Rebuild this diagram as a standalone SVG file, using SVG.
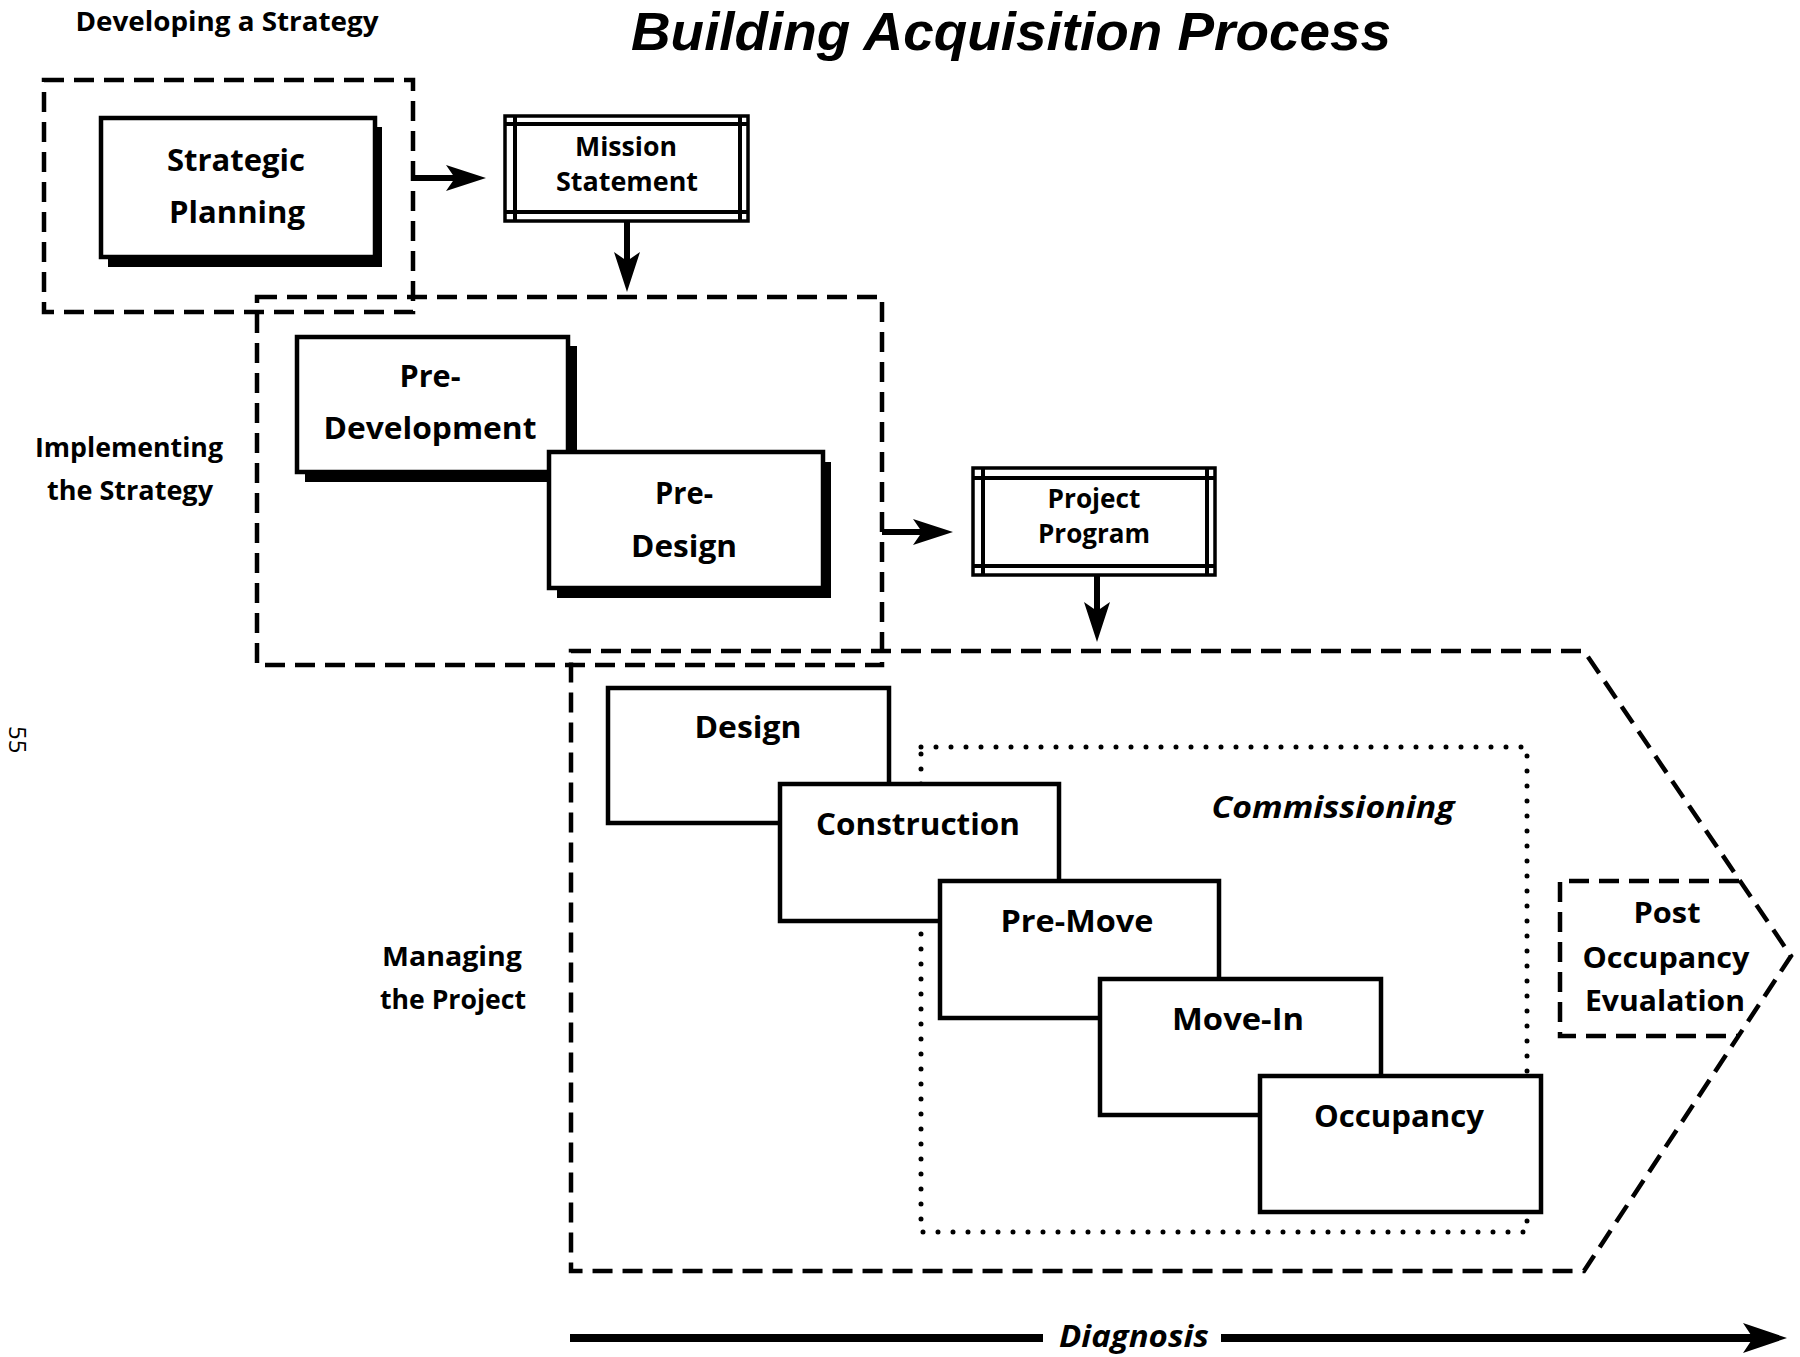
<svg xmlns="http://www.w3.org/2000/svg" width="1800" height="1357" viewBox="0 0 1800 1357">
<style>
.t{font-family:"Open Sans","Noto Sans","Liberation Sans",sans-serif;font-weight:700;fill:#000;text-anchor:middle}
.it{font-style:italic}
.title{font-family:"Liberation Sans","Open Sans",sans-serif}
.dash{fill:none;stroke:#000;stroke-width:4.5;stroke-dasharray:20 10}
.dot{fill:none;stroke:#000;stroke-width:5;stroke-dasharray:0 15;stroke-linecap:round}
.box{fill:#fff;stroke:#000;stroke-width:4.5}
.shadow{fill:#000}
.frame{fill:#fff;stroke:#000;stroke-width:3.5}
.fl{stroke:#000;stroke-width:4;fill:none}
.conn{stroke:#000;stroke-width:6;fill:none}
</style>
<defs>
<marker id="ah" viewBox="0 0 40 26" refX="20" refY="13" markerWidth="40" markerHeight="26" markerUnits="userSpaceOnUse" orient="auto">
<path d="M0,0 L40,13 L0,26 L9,13 Z" fill="#000"/>
</marker>
<marker id="ahBig" viewBox="0 0 44 30" refX="22" refY="15" markerWidth="44" markerHeight="30" markerUnits="userSpaceOnUse" orient="auto">
<path d="M0,0 L44,15 L0,30 L10,15 Z" fill="#000"/>
</marker>
</defs>
<rect width="1800" height="1357" fill="#fff"/>

<text class="t it title" x="1011" y="50" font-size="54" textLength="760" lengthAdjust="spacingAndGlyphs">Building Acquisition Process</text>
<text x="9" y="726" transform="rotate(90 9 726)" font-family="'Open Sans','Liberation Sans',sans-serif" font-size="24">55</text>

<g id="stage-developing">
<rect class="dash" x="44" y="80" width="369" height="232"/>
<text class="t" x="227" y="31" font-size="26" textLength="303" lengthAdjust="spacingAndGlyphs">Developing a Strategy</text>
</g>
<g id="stage-implementing">
<rect class="dash" x="257" y="297" width="625" height="368"/>
<text class="t" x="129" y="457" font-size="26" textLength="188" lengthAdjust="spacingAndGlyphs">Implementing</text>
<text class="t" x="130" y="500" font-size="26" textLength="166" lengthAdjust="spacingAndGlyphs">the Strategy</text>
</g>
<g id="stage-managing">
<path class="dash" d="M571,651 H1584 L1791,956 L1584,1271 H571 Z"/>
<text class="t" x="452" y="966" font-size="26" textLength="140" lengthAdjust="spacingAndGlyphs">Managing</text>
<text class="t" x="453" y="1009" font-size="26" textLength="146" lengthAdjust="spacingAndGlyphs">the Project</text>
</g>
<g id="commissioning">
<rect class="dot" x="921" y="747" width="606" height="485"/>
<text class="t it" x="1333" y="818" font-size="31" textLength="243" lengthAdjust="spacingAndGlyphs">Commissioning</text>
</g>

<g id="strategic-planning">
<rect class="shadow" x="108" y="127" width="274" height="140"/>
<rect class="box" x="101" y="118" width="274" height="139"/>
<text class="t" x="236" y="171" font-size="31" textLength="138" lengthAdjust="spacingAndGlyphs">Strategic</text>
<text class="t" x="237" y="223" font-size="31" textLength="136" lengthAdjust="spacingAndGlyphs">Planning</text>
</g>

<g id="mission-statement">
<rect class="frame" x="505" y="116" width="243" height="105"/>
<path class="fl" d="M505,124 H748 M505,212 H748 M515,116 V221 M740,116 V221"/>
<text class="t" x="626" y="156" font-size="27.5" textLength="102" lengthAdjust="spacingAndGlyphs">Mission</text>
<text class="t" x="627" y="191" font-size="27.5" textLength="142" lengthAdjust="spacingAndGlyphs">Statement</text>
</g>

<g id="pre-development">
<rect class="shadow" x="305" y="346" width="272" height="136"/>
<rect class="box" x="297" y="337" width="271" height="135"/>
<text class="t" x="430" y="387" font-size="31" textLength="61" lengthAdjust="spacingAndGlyphs">Pre-</text>
<text class="t" x="430" y="439" font-size="31" textLength="213" lengthAdjust="spacingAndGlyphs">Development</text>
</g>

<g id="pre-design">
<rect class="shadow" x="557" y="462" width="274" height="136"/>
<rect class="box" x="549" y="452" width="274" height="136"/>
<text class="t" x="684" y="504" font-size="31" textLength="58" lengthAdjust="spacingAndGlyphs">Pre-</text>
<text class="t" x="684" y="557" font-size="31" textLength="106" lengthAdjust="spacingAndGlyphs">Design</text>
</g>

<g id="project-program">
<rect class="frame" x="973" y="468" width="242" height="107"/>
<path class="fl" d="M973,478 H1215 M973,566 H1215 M983,468 V575 M1207,468 V575"/>
<text class="t" x="1094" y="508" font-size="26.5" textLength="93" lengthAdjust="spacingAndGlyphs">Project</text>
<text class="t" x="1094" y="543" font-size="26.5" textLength="112" lengthAdjust="spacingAndGlyphs">Program</text>
</g>

<g id="design">
<rect class="box" x="608" y="688" width="281" height="135"/>
<text class="t" x="748" y="738" font-size="31" textLength="107" lengthAdjust="spacingAndGlyphs">Design</text>
</g>
<g id="construction">
<rect class="box" x="780" y="784" width="279" height="137"/>
<text class="t" x="918" y="835" font-size="31" textLength="204" lengthAdjust="spacingAndGlyphs">Construction</text>
</g>
<g id="pre-move">
<rect class="box" x="940" y="881" width="279" height="137"/>
<text class="t" x="1077" y="932" font-size="31" textLength="153" lengthAdjust="spacingAndGlyphs">Pre-Move</text>
</g>
<g id="move-in">
<rect class="box" x="1100" y="979" width="281" height="136"/>
<text class="t" x="1238" y="1030" font-size="31" textLength="132" lengthAdjust="spacingAndGlyphs">Move-In</text>
</g>
<g id="occupancy">
<rect class="box" x="1260" y="1076" width="281" height="136"/>
<text class="t" x="1399" y="1127" font-size="31" textLength="170" lengthAdjust="spacingAndGlyphs">Occupancy</text>
</g>

<g id="post-occupancy-evaluation">
<path class="dash" d="M1739,881 H1560 V1036 H1739"/>
<text class="t" x="1667" y="923" font-size="29" textLength="67" lengthAdjust="spacingAndGlyphs">Post</text>
<text class="t" x="1666" y="968" font-size="29" textLength="167" lengthAdjust="spacingAndGlyphs">Occupancy</text>
<text class="t" x="1665" y="1011" font-size="29" textLength="160" lengthAdjust="spacingAndGlyphs">Evualation</text>
</g>

<g id="connectors">
<path class="conn" d="M413,178 H466" marker-end="url(#ah)"/>
<path class="conn" d="M627,221 V272" marker-end="url(#ah)"/>
<path class="conn" d="M882,532 H933" marker-end="url(#ah)"/>
<path class="conn" d="M1097,575 V622" marker-end="url(#ah)"/>
</g>

<g id="diagnosis-axis">
<path d="M570,1338 H1043" stroke="#000" stroke-width="8" fill="none"/>
<path d="M1221,1338 H1765" stroke="#000" stroke-width="8" fill="none" marker-end="url(#ahBig)"/>
<text class="t it" x="1134" y="1347" font-size="30" textLength="150" lengthAdjust="spacingAndGlyphs">Diagnosis</text>
</g>
</svg>
